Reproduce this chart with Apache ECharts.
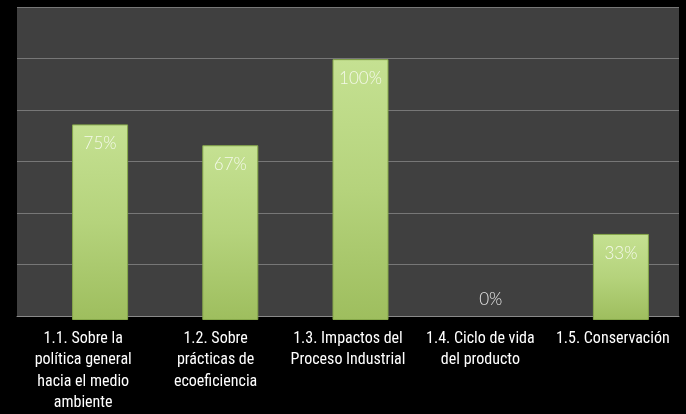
<!DOCTYPE html>
<html>
<head>
<meta charset="utf-8">
<script src="https://cdn.jsdelivr.net/npm/echarts@6/dist/echarts.min.js"></script>
<style>
html,body{margin:0;padding:0;background:#000;}
#c{width:686px;height:414px;}
</style>
</head>
<body>
<div id="c"></div>
<script>
const categories = [
  "1.1. Sobre la\npolítica general\nhacia el medio\nambiente",
  "1.2. Sobre\nprácticas de\necoeficiencia",
  "1.3. Impactos del\nProceso Industrial",
  "1.4. Ciclo de vida\ndel producto",
  "1.5. Conservación"
];
const values = [75, 67, 100, 0, 33];
const yTicks = { min: 0, max: 120, interval: 20 };

const FONT = '"Roboto Condensed", "Liberation Sans Narrow", sans-serif';
const LABEL_FONT = 'Lato, "Open Sans", sans-serif';
const chart = echarts.init(document.getElementById('c'), null, {renderer: 'canvas'});

const barData = values.map(v => v === 0
  ? { value: v, itemStyle: { borderWidth: 0, color: 'rgba(0,0,0,0)' }, label: { position: 'top', distance: 12, color: '#e8e8e8' } }
  : v);

chart.setOption({
  backgroundColor: '#000000',
  animation: false,
  grid: [
    { left: 17, top: 7, width: 662, height: 313, show: true, backgroundColor: '#404040', borderWidth: 0, containLabel: false },
    { left: 35, top: 7, width: 662, height: 313, show: false, containLabel: false }
  ],
  xAxis: [
    {
      gridIndex: 0, type: 'category', data: categories,
      axisLine: { show: true, lineStyle: { color: '#8a8a8a', width: 1 } },
      axisTick: { show: false },
      axisLabel: { color: '#ffffff', fontFamily: FONT, fontSize: 16, lineHeight: 21.5, margin: 12, interval: 0 }
    },
    {
      gridIndex: 1, type: 'category', data: categories,
      axisLine: { show: false }, axisTick: { show: false }, axisLabel: { show: false }
    }
  ],
  yAxis: [
    {
      gridIndex: 0, type: 'value', min: yTicks.min, max: yTicks.max, interval: yTicks.interval,
      axisLine: { show: false }, axisTick: { show: false }, axisLabel: { show: false },
      splitLine: { show: true, lineStyle: { color: '#777777', width: 1 } }
    },
    {
      gridIndex: 1, type: 'value', min: yTicks.min, max: yTicks.max, interval: yTicks.interval,
      axisLine: { show: false }, axisTick: { show: false }, axisLabel: { show: false },
      splitLine: { show: false }
    }
  ],
  series: [
    {
      type: 'bar', xAxisIndex: 1, yAxisIndex: 1,
      data: barData,
      barWidth: 56,
      itemStyle: {
        color: new echarts.graphic.LinearGradient(0, 0, 0, 1, [
          { offset: 0, color: '#c5e192' },
          { offset: 0.5, color: '#b5d37c' },
          { offset: 1, color: '#9ebe5e' }
        ]),
        borderColor: '#86a84a',
        borderWidth: 1
      },
      label: {
        show: true, position: 'insideTop', distance: 11,
        formatter: '{c}%',
        color: '#f4f9ea', fontFamily: LABEL_FONT, fontWeight: 300, fontSize: 17
      }
    }
  ]
});
</script>
</body>
</html>
